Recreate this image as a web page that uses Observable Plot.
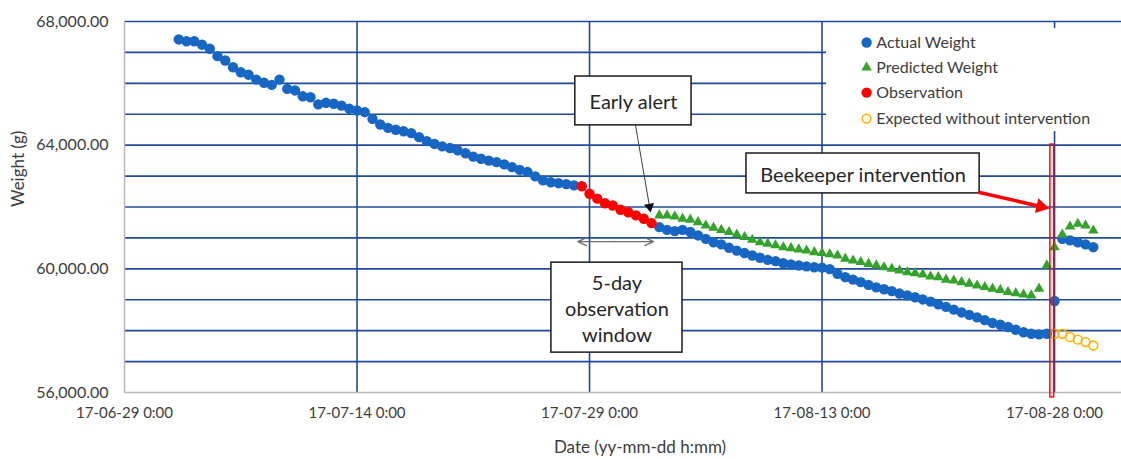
<!DOCTYPE html>
<html>
<head>
<meta charset="utf-8">
<script src="https://cdn.jsdelivr.net/npm/d3@7"></script>
<script src="https://cdn.jsdelivr.net/npm/@observablehq/plot@0.6"></script>
<style>
  html, body { margin: 0; padding: 0; background: #fff; }
  #chart svg { display: block; }
</style>
</head>
<body>
<div id="chart"></div>
<script>
// ---------------- DATA (12-hour samples) ----------------
const actualBeforeStart = "2017-07-02T12:00Z";
const actualBefore = [
  67420, 67360, 67360, 67250, 67120, 66880, 66740, 66520, 66360, 66280,
  66120, 66020, 65950, 66120, 65820, 65770, 65580, 65550, 65320, 65370,
  65340, 65280, 65180, 65120, 65070, 64850, 64670, 64560, 64500, 64450,
  64390, 64260, 64130, 64040, 63960, 63910, 63830, 63740, 63630, 63560,
  63500, 63450, 63380, 63290, 63200, 63130, 62990, 62860, 62800, 62770,
  62740, 62700
];
const observationStart = "2017-07-28T12:00Z";
const observation = [62670, 62430, 62270, 62120, 62050, 61910, 61830, 61730, 61620, 61480];

const actualAfterStart = "2017-08-02T12:00Z";
const actualAfter = [
  61350, 61260, 61220, 61260, 61190, 61080, 60970, 60860, 60790, 60680,
  60590, 60510, 60430, 60360, 60290, 60250, 60180, 60140, 60110, 60080,
  60050, 60040, 59990, 59840, 59730, 59650, 59570, 59480, 59400, 59340,
  59280, 59200, 59140, 59080, 59010, 58940, 58850, 58770, 58680, 58590,
  58510, 58430, 58340, 58250, 58190, 58120, 58030, 57950, 57900, 57880,
  57900, 58960, 60970, 60920, 60860, 60790, 60700
];
const predictedStart = "2017-08-02T12:00Z";
const predicted = [
  61730, 61730, 61690, 61620, 61590, 61510, 61400, 61330, 61260, 61190,
  61110, 61030, 60940, 60860, 60810, 60760, 60700, 60670, 60630, 60590,
  60540, 60510, 60470, 60430, 60330, 60270, 60220, 60160, 60110, 60050,
  60000, 59950, 59890, 59860, 59820, 59750, 59730, 59650, 59620, 59570,
  59520, 59460, 59410, 59360, 59320, 59250, 59210, 59170, 59140, 59360,
  60110, 60700, 61110, 61370, 61460, 61400, 61240
];
const expectedStart = "2017-08-28T00:00Z";
const expected = [57900, 57900, 57790, 57710, 57630, 57520];

const xTicks = ["2017-06-29", "2017-07-14", "2017-07-29", "2017-08-13", "2017-08-28"];
const yGridValues = [57000, 58000, 59000, 60000, 61000, 62000, 63000, 64000, 65000, 66000, 67000, 68000];
const yTickLabels = [56000, 60000, 64000, 68000];
const xDomain = ["2017-06-29T00:00Z", "2017-09-01T07:40Z"];
const yDomain = [56000, 68000];

const legendLabels = ["Actual Weight", "Predicted Weight", "Observation", "Expected without intervention"];
const legendRowWeights = [67320, 66510, 65700, 64860];

// annotations (in data units)
const boxes = [
  {label: "Early alert", x1: "2017-07-28T02:00Z", x2: "2017-08-04T14:00Z", y1: 64640, y2: 66220},
  {label: "5-day\nobservation\nwindow", x1: "2017-07-26T13:00Z", x2: "2017-08-04T00:00Z", y1: 57290, y2: 60200},
  {label: "Beekeeper intervention", x1: "2017-08-08T03:00Z", x2: "2017-08-23T04:00Z", y1: 62440, y2: 63730}
];
const alertArrow = {x1: "2017-07-31T23:15Z", y1: 64640, x2: "2017-08-01T22:30Z", y2: 61820};
const interventionArrow = {x1: "2017-08-23T04:00Z", y1: 62470, x2: "2017-08-27T16:00Z", y2: 61950};
const windowArrow = {xc: "2017-07-30T16:00Z", xl: "2017-07-28T06:00Z", xr: "2017-08-02T03:00Z", y: 60880};
const interventionBand = {x1: "2017-08-27T17:30Z", x2: "2017-08-27T23:30Z", y1: 55840, y2: 64020};
const legendBox = {x1: "2017-08-13T07:00Z", x2: "2017-09-01T07:40Z", y1: 64440, y2: 67770};
const legendMarkerX = "2017-08-15T21:00Z";
const legendTextX = "2017-08-16T12:00Z";

// ---------------- helpers ----------------
const D = s => new Date(s.length === 10 ? s + "T00:00Z" : s);
const HALF_DAY = 12 * 3600 * 1000;
const series = (start, values) => {
  const t0 = D(start).getTime();
  return values.map((w, i) => ({date: new Date(t0 + i * HALF_DAY), weight: w}));
};

const blue = "#1866c4", green = "#35a22c", red = "#ff0000", gold = "#ffb300";
const gridColor = "#1f4a9c", axisColor = "#b8b8b8", textColor = "#3c3c3c";

const dActual = series(actualBeforeStart, actualBefore).concat(series(actualAfterStart, actualAfter));
const dObs = series(observationStart, observation);
const dPred = series(predictedStart, predicted);
const dExp = series(expectedStart, expected);

const boxData = boxes.map(b => ({...b, x1: D(b.x1), x2: D(b.x2),
  xm: new Date((D(b.x1).getTime() + D(b.x2).getTime()) / 2), ym: (b.y1 + b.y2) / 2}));
const fmtX = d3.utcFormat("%y-%m-%d %-H:%M");
const fmtY = d3.format(",.2f");

const legendRows = legendLabels.map((label, i) => ({label, x: D(legendMarkerX), tx: D(legendTextX), y: legendRowWeights[i]}));

const chart = Plot.plot({
  width: 1121,
  height: 459,
  marginLeft: 124,
  marginRight: 0,
  marginTop: 21,
  marginBottom: 67,
  x: {type: "utc", domain: xDomain.map(D), axis: null},
  y: {domain: yDomain, axis: null},
  style: {fontFamily: "Lato, 'Open Sans', sans-serif", fontSize: "15px", color: textColor, background: "#fff", overflow: "visible"},
  marks: [
    // gridlines
    Plot.ruleY(yGridValues, {stroke: gridColor, strokeWidth: 1.6}),
    Plot.ruleX(xTicks.slice(1).map(D), {stroke: gridColor, strokeWidth: 1.6}),
    Plot.ruleX([D(xTicks[0])], {stroke: axisColor, strokeWidth: 1.5}),
    Plot.ruleY([yDomain[0]], {stroke: axisColor, strokeWidth: 1.5}),
    // tick labels
    Plot.text(xTicks.map(D), {x: d => d, frameAnchor: "bottom", dy: 25, text: d => fmtX(d), fontSize: 15, fill: textColor}),
    Plot.text(yTickLabels, {y: d => d, frameAnchor: "left", dx: -16, textAnchor: "end", text: d => fmtY(d), fontSize: 16, fill: textColor}),
    // axis titles
    Plot.text(["Weight (g)"], {frameAnchor: "left", dx: -106, rotate: -90, fontSize: 17, fill: textColor}),
    Plot.text(["Date (yy-mm-dd h:mm)"], {frameAnchor: "bottom", dx: 17, dy: 60, fontSize: 17, fill: textColor}),
    // legend background
    Plot.rect([legendBox], {x1: d => D(d.x1), x2: d => D(d.x2), y1: "y1", y2: "y2", fill: "#fff"}),
    // data
    Plot.dot(dActual, {x: "date", y: "weight", r: 5.2, fill: blue}),
    Plot.dot(dPred, {x: "date", y: "weight", r: 3.9, symbol: "triangle", fill: green}),
    Plot.dot(dObs, {x: "date", y: "weight", r: 5.2, fill: red}),
    Plot.dot(dExp, {x: "date", y: "weight", r: 4.4, stroke: gold, strokeWidth: 1.6, fill: "none"}),
    // intervention band
    Plot.rect([interventionBand], {x1: d => D(d.x1), x2: d => D(d.x2), y1: "y1", y2: "y2", fill: red, fillOpacity: 0.12, stroke: red, strokeWidth: 1.4}),
    // legend
    Plot.dot(legendRows.slice(0, 1), {x: "x", y: "y", r: 5.2, fill: blue}),
    Plot.dot(legendRows.slice(1, 2), {x: "x", y: "y", r: 3.9, symbol: "triangle", fill: green}),
    Plot.dot(legendRows.slice(2, 3), {x: "x", y: "y", r: 5.2, fill: red}),
    Plot.dot(legendRows.slice(3, 4), {x: "x", y: "y", r: 4.4, stroke: gold, strokeWidth: 1.6, fill: "none"}),
    Plot.text(legendRows, {x: "tx", y: "y", text: "label", textAnchor: "start", fontSize: 16, fill: textColor}),
    // annotation boxes
    Plot.rect(boxData, {x1: "x1", x2: "x2", y1: "y1", y2: "y2", fill: "#fff", stroke: "#1a1a1a", strokeWidth: 1.5}),
    Plot.text(boxData, {x: "xm", y: "ym", text: "label", fontSize: 20, lineHeight: 1.3, fill: "#262626"}),
    // early alert arrow
    Plot.arrow([alertArrow], {x1: d => D(d.x1), y1: "y1", x2: d => D(d.x2), y2: "y2", bend: 0, headLength: 0, insetEnd: 4, stroke: "#404040", strokeWidth: 1}),
    Plot.dot([alertArrow], {x: d => D(d.x2), y: "y2", symbol: "triangle", r: 3.8, fill: "#111", rotate: 170, dx: -1, dy: -5.8}),
    // 5-day double arrow
    Plot.arrow([{x1: D(windowArrow.xc), x2: D(windowArrow.xl), y: windowArrow.y}, {x1: D(windowArrow.xc), x2: D(windowArrow.xr), y: windowArrow.y}],
      {x1: "x1", x2: "x2", y1: "y", y2: "y", bend: 0, headLength: 11, headAngle: 50, stroke: "#6e6e6e", strokeWidth: 1.3}),
    // intervention arrow
    Plot.arrow([interventionArrow], {x1: d => D(d.x1), y1: "y1", x2: d => D(d.x2), y2: "y2", bend: 0, headLength: 0, insetEnd: 9, stroke: red, strokeWidth: 3.5}),
    Plot.dot([interventionArrow], {x: d => D(d.x2), y: "y2", symbol: "triangle", r: 5.6, fill: red, rotate: 103, dx: -8.5, dy: -1.9})
  ]
});
document.getElementById("chart").appendChild(chart);
</script>
</body>
</html>
